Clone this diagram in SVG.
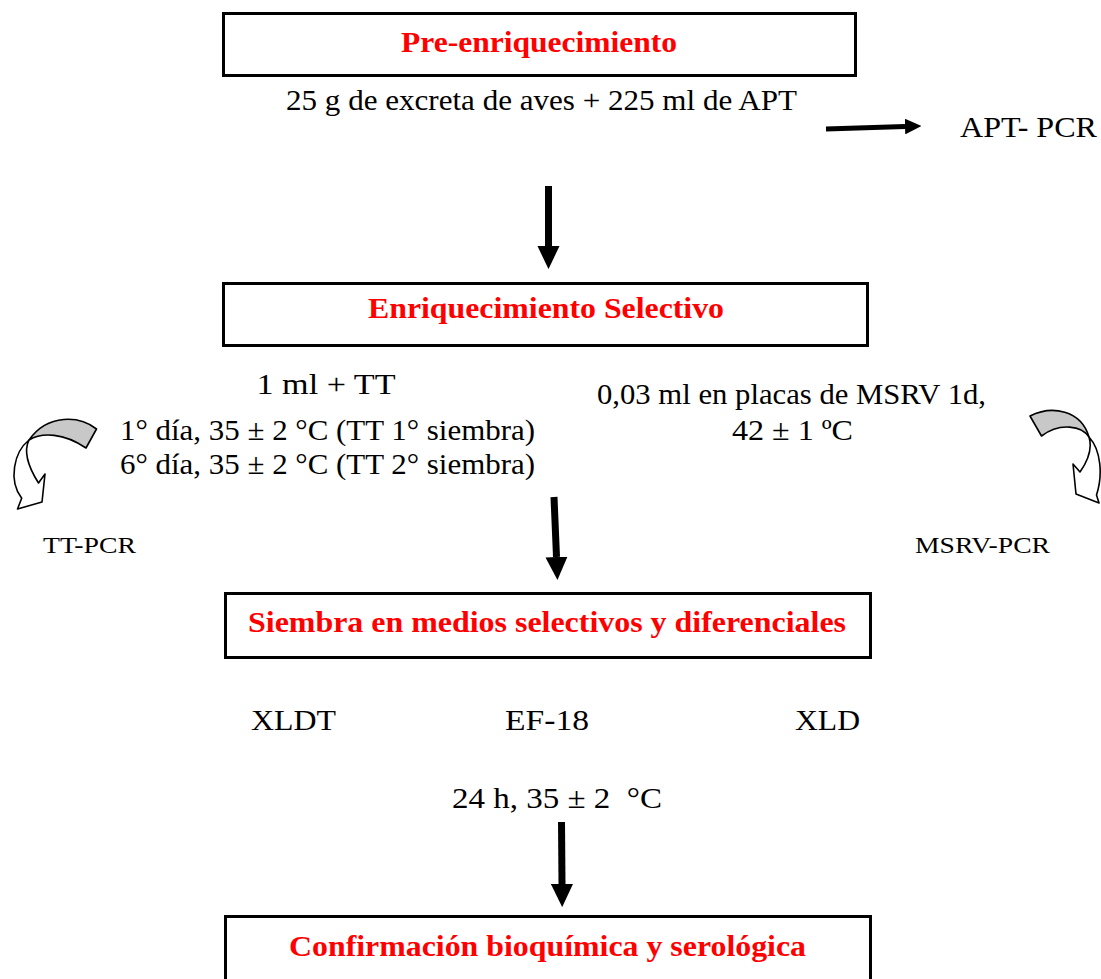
<svg xmlns="http://www.w3.org/2000/svg" width="1101" height="979" viewBox="0 0 1101 979">
  <style>
    .box { fill: #ffffff; stroke: #000000; stroke-width: 3; }
    .title { font-family: "Liberation Serif", "Times New Roman", serif; font-size: 30px; font-weight: bold; fill: #ff0000; text-anchor: middle; }
    .body { font-family: "Liberation Serif", "Times New Roman", serif; font-size: 30px; fill: #000000; text-anchor: middle; }
    .small { font-family: "Liberation Serif", "Times New Roman", serif; font-size: 23px; fill: #000000; text-anchor: middle; }
    .flow { stroke: #000000; fill: none; marker-end: url(#head); }
    .band { fill: #c8c8c8; stroke: #000000; stroke-width: 1.6; stroke-linejoin: round; }
    .ribbon { fill: #ffffff; stroke: #000000; stroke-width: 1.6; stroke-linejoin: round; }
  </style>
  <defs>
    <marker id="head" viewBox="0 0 33 31.5" markerUnits="strokeWidth" markerWidth="3.3" markerHeight="3.15" refX="0" refY="15.75" orient="auto">
      <path d="M0,0 L33,15.75 L0,31.5 Z" fill="#000000"/>
    </marker>
  </defs>

  <rect width="1101" height="979" fill="#ffffff"/>

  <!-- connectors -->
  <g id="connectors">
    <line class="flow" x1="826" y1="129" x2="905" y2="126.5" stroke-width="5"/>
    <line class="flow" x1="548.5" y1="186" x2="548.5" y2="246" stroke-width="7"/>
    <line class="flow" x1="554" y1="497" x2="556.5" y2="557" stroke-width="7"/>
    <line class="flow" x1="561.5" y1="822" x2="562" y2="884" stroke-width="7"/>
  </g>

  <!-- curved side arrows -->
  <g id="curve-left">
    <path class="ribbon" d="M29,440 C14,452 8,480 21.7,498.3 L17.5,509 L42,502 L45,474 L38.5,483 C29,468 23,452 29,440 Z"/>
    <path class="band" d="M96.5,429 C80,416 48,413 29,440 C42,432 64,433 86,448 Z"/>
  </g>
  <g id="curve-right">
    <path class="ribbon" d="M1089,437 C1101,450 1103,475 1096.5,495 L1099,503 L1076,494 L1073,464 L1080,472 C1087,462 1093,450 1089,437 Z"/>
    <path class="band" d="M1030,416 C1052,405 1081,410 1089,437 C1082,426 1060,422 1041.5,436 Z"/>
  </g>

  <!-- step boxes -->
  <g id="node-pre">
    <rect class="box" x="223.5" y="13.5" width="632" height="62"/>
    <text class="title" x="539" y="52" textLength="276" lengthAdjust="spacingAndGlyphs">Pre-enriquecimiento</text>
  </g>
  <g id="node-enriq">
    <rect class="box" x="223.5" y="283.5" width="644" height="62"/>
    <text class="title" x="546" y="318" textLength="356" lengthAdjust="spacingAndGlyphs">Enriquecimiento Selectivo</text>
  </g>
  <g id="node-siembra">
    <rect class="box" x="225.5" y="593.5" width="645" height="64"/>
    <text class="title" x="547" y="632" textLength="598" lengthAdjust="spacingAndGlyphs">Siembra en medios selectivos y diferenciales</text>
  </g>
  <g id="node-confirm">
    <rect class="box" x="225.5" y="916.5" width="645" height="100"/>
    <text class="title" x="547.5" y="956" textLength="517" lengthAdjust="spacingAndGlyphs">Confirmación bioquímica y serológica</text>
  </g>

  <!-- notes -->
  <g id="notes">
    <text class="body" x="541.5" y="110" textLength="511" lengthAdjust="spacingAndGlyphs">25 g de excreta de aves + 225 ml de APT</text>
    <text class="body" x="1028.5" y="137" textLength="137" lengthAdjust="spacingAndGlyphs">APT- PCR</text>
    <text class="body" x="326" y="394" textLength="139" lengthAdjust="spacingAndGlyphs">1 ml + TT</text>
    <text class="body" x="327.5" y="440" textLength="415" lengthAdjust="spacingAndGlyphs">1° día, 35 ± 2 °C (TT 1° siembra)</text>
    <text class="body" x="327.5" y="474" textLength="415" lengthAdjust="spacingAndGlyphs">6° día, 35 ± 2 °C (TT 2° siembra)</text>
    <text class="body" x="791.5" y="404" textLength="389" lengthAdjust="spacingAndGlyphs">0,03 ml en placas de MSRV 1d,</text>
    <text class="body" x="792.5" y="440" textLength="121" lengthAdjust="spacingAndGlyphs">42 ± 1 ºC</text>
    <text class="small" x="89.5" y="553" textLength="93" lengthAdjust="spacingAndGlyphs">TT-PCR</text>
    <text class="small" x="982.5" y="553" textLength="135" lengthAdjust="spacingAndGlyphs">MSRV-PCR</text>
    <text class="body" x="293.5" y="730" textLength="85" lengthAdjust="spacingAndGlyphs">XLDT</text>
    <text class="body" x="547" y="730" textLength="84" lengthAdjust="spacingAndGlyphs">EF-18</text>
    <text class="body" x="827.5" y="730" textLength="65" lengthAdjust="spacingAndGlyphs">XLD</text>
    <text class="body" x="557" y="808" textLength="210" lengthAdjust="spacingAndGlyphs" style="white-space:pre">24 h, 35 ± 2  °C</text>
  </g>
</svg>
